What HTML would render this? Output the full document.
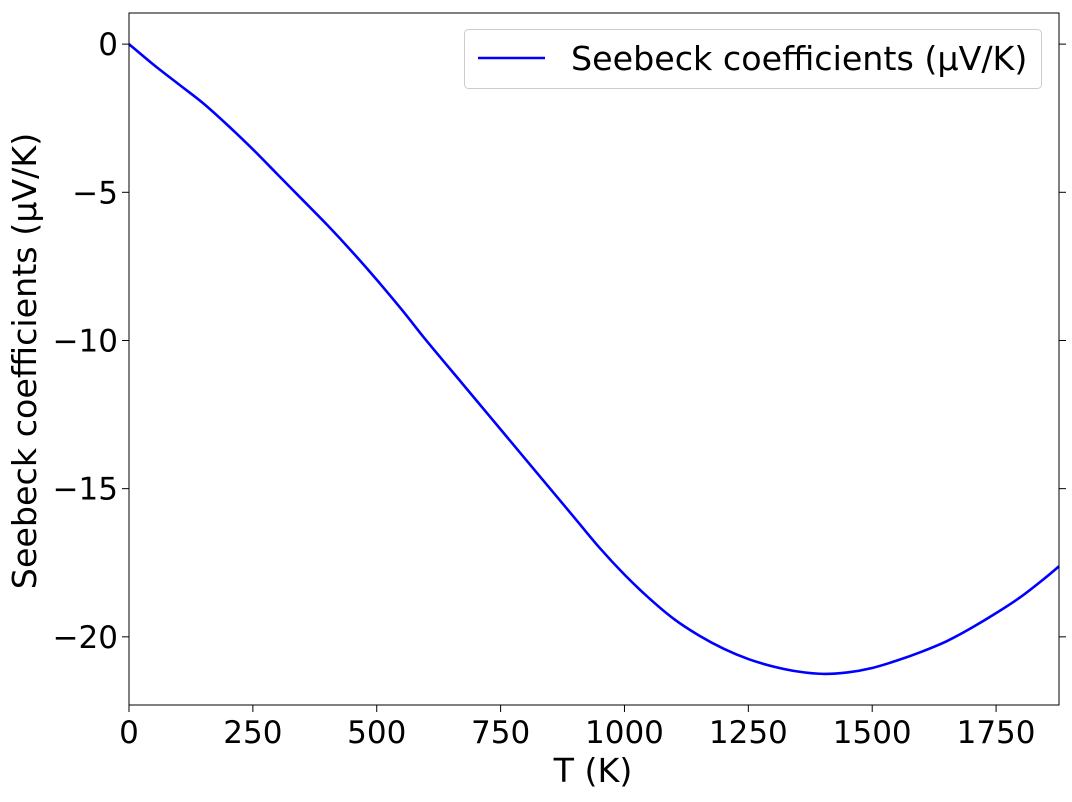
<!DOCTYPE html>
<html><head><meta charset="utf-8"><style>
html,body{margin:0;padding:0;background:#fff;}
svg text{font-family:"DejaVu Sans","Liberation Sans",sans-serif;fill:#000;}
</style></head><body>
<svg id="chart" width="1072" height="797" xmlns="http://www.w3.org/2000/svg">
<g id="axes"></g>
<path id="curve" fill="none" stroke="#0000ff" stroke-width="2.6"/>
<rect x="129" y="13" width="930" height="692" fill="none" stroke="#000" stroke-width="1"/>
<g>
<rect x="464.5" y="29.5" width="577" height="59" rx="4" fill="#fff" stroke="#ccc" stroke-width="1"/>
<line x1="478" y1="58" x2="545" y2="58" stroke="#0000ff" stroke-width="2.6"/>
<text x="571" y="70" font-size="33.3">Seebeck coefficients (μV/K)</text>
</g>
<text x="593" y="782" font-size="33.3" text-anchor="middle">T (K)</text>
<text transform="translate(36,361) rotate(-90)" font-size="33.3" text-anchor="middle">Seebeck coefficients (μV/K)</text>
</svg>
<script>
const temps=[0,50,100,150,200,250,300,350,400,450,500,550,600,650,700,750,800,850,900,950,1000,1050,1100,1150,1200,1250,1300,1350,1400,1450,1500,1550,1600,1650,1700,1750,1800,1850,1877];
const seebeck=[0,-0.7,-1.35,-2.0,-2.75,-3.55,-4.4,-5.25,-6.1,-7.0,-7.95,-8.95,-10.0,-11.0,-12.0,-13.0,-14.0,-15.0,-16.0,-17.0,-17.9,-18.7,-19.4,-19.95,-20.4,-20.75,-21.0,-21.17,-21.25,-21.2,-21.05,-20.8,-20.5,-20.15,-19.7,-19.2,-18.65,-18.0,-17.62];
const xTicks=[0,250,500,750,1000,1250,1500,1750];
const yTicks=[0,-5,-10,-15,-20];
const yTickLabels=["0","\u22125","\u221210","\u221215","\u221220"];
const X0=129,X1=1059,Y0=13,Y1=705,xmin=0,xmax=1877,ymin=-22.3,ymax=1.05;
const sx=v=>X0+(v-xmin)/(xmax-xmin)*(X1-X0);
const sy=v=>Y1-(v-ymin)/(ymax-ymin)*(Y1-Y0);
const ns="http://www.w3.org/2000/svg",axes=document.getElementById('axes');
function mk(t,a){const e=document.createElementNS(ns,t);for(const k in a)e.setAttribute(k,a[k]);axes.appendChild(e);return e;}
xTicks.forEach(v=>{
 const l=mk('line',{x1:sx(v),x2:sx(v),y1:Y1,y2:Y1+7,stroke:'#000','stroke-width':1});
 
 
 const t=mk('text',{x:sx(v),y:Y1+38,'font-size':31,'text-anchor':'middle'});
 t.textContent=v;
 
 
});
yTicks.forEach((v,i)=>{
 const l=mk('line',{x1:X0-7,x2:X0,y1:sy(v),y2:sy(v),stroke:'#000','stroke-width':1});
 
 
 const r=mk('line',{x1:X1,x2:X1+7,y1:sy(v),y2:sy(v),stroke:'#000','stroke-width':1});
 
 
 const t=mk('text',{x:X0-11,y:sy(v)+11,'font-size':31,'text-anchor':'end'});
 t.textContent=yTickLabels[i];
 
 
});
const pts=temps.map((t,i)=>[sx(t),sy(seebeck[i])]);
let d='M'+pts[0][0]+','+pts[0][1];
for(let i=0;i<pts.length-1;i++){
 const p0=pts[Math.max(i-1,0)],p1=pts[i],p2=pts[i+1],p3=pts[Math.min(i+2,pts.length-1)];
 d+=' C'+(p1[0]+(p2[0]-p0[0])/6)+','+(p1[1]+(p2[1]-p0[1])/6)+' '+(p2[0]-(p3[0]-p1[0])/6)+','+(p2[1]-(p3[1]-p1[1])/6)+' '+p2[0]+','+p2[1];
}
document.getElementById('curve').setAttribute('d',d);
</script>
</body></html>
